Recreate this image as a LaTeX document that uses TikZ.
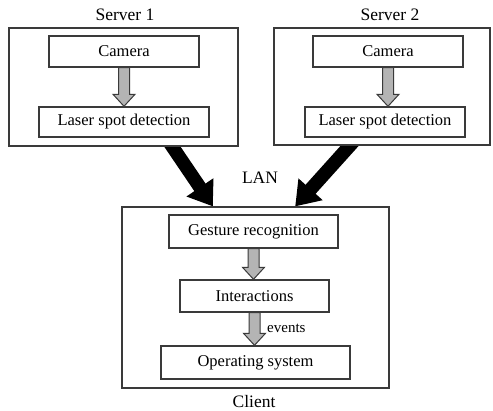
\documentclass[tikz,border=0pt]{standalone}
\usepackage{fontspec}
\setmainfont{Liberation Serif}
\usetikzlibrary{calc,arrows.meta,backgrounds}
\definecolor{edge}{HTML}{3A3A3A}
\definecolor{garfill}{HTML}{B4B4B4}
\tikzset{
  outerbox/.style={draw=edge,line width=1.2pt,fill=white,inner sep=0pt},
  innerbox/.style={draw=edge,line width=1.4pt,fill=white,inner sep=0pt,
    font=\fontsize{16.5}{19}\selectfont},
  title/.style={font=\fontsize{17.5}{20}\selectfont,inner sep=0pt},
  smalllabel/.style={font=\fontsize{15}{17}\selectfont,inner sep=0pt},
  garrow/.style={draw=edge,fill=garfill,line width=1pt,line join=miter},
  lanarrow/.style={line width=13.5pt,black,-{Triangle[length=23pt,width=31pt]}}
}
\newcommand\flowarrow[2]{%
  \filldraw[garrow] let \p1=(#1), \p2=(#2) in
    (\x1-5.5pt,\y1) -- (\x1+5.5pt,\y1) -- (\x1+5.5pt,\y2+12pt) --
    (\x1+11pt,\y2+12pt) -- (\x1,\y2) -- (\x1-11pt,\y2+12pt) --
    (\x1-5.5pt,\y2+12pt) -- cycle;}
\begin{document}
\begin{tikzpicture}[x=1pt,y=-1pt]
\useasboundingbox (0,0) rectangle (493,411);
% servers
\node[outerbox,minimum width=229,minimum height=118] (s1) at (123.5,87) {};
\node[outerbox,minimum width=216,minimum height=117] (s2) at (382,86.5) {};
\node[innerbox,minimum width=150,minimum height=31] (cam1) at (124,51.5) {Camera};
\node[innerbox,minimum width=170,minimum height=30] (las1) at (124,122) {Laser spot detection};
\node[innerbox,minimum width=150,minimum height=31] (cam2) at (388,51.5) {Camera};
\node[innerbox,minimum width=160,minimum height=30] (las2) at (385,122) {Laser spot detection};
\node[title] (t1) at (125,15) {Server 1};
\node[title] (t2) at (390,15) {Server 2};
% client
\node[outerbox,minimum width=267,minimum height=181] (cl) at (255.5,297.5) {};
\node[innerbox,minimum width=169,minimum height=33] (gest) at (253.5,231.5) {Gesture recognition};
\node[innerbox,minimum width=149,minimum height=32] (inter) at (254.5,296) {Interactions};
\node[innerbox,minimum width=189,minimum height=33] (os) at (255.5,362.5) {Operating system};
\node[title] (tc) at (254,402) {Client};
\node[title] (lan) at (260,178) {LAN};
% gray arrows
\flowarrow{cam1.south}{las1.north}
\flowarrow{cam2.south}{las2.north}
\flowarrow{gest.south}{inter.north}
\flowarrow{inter.south}{os.north}
\node[smalllabel,anchor=west] (ev) at (267,328) {events};
% LAN arrows
\coordinate (a1s) at ($(s1.south west)!0.712!(s1.south east)$);
\coordinate (a1e) at ($(cl.north west)!0.341!(cl.north east)$);
\coordinate (a2s) at ($(s2.south west)!0.352!(s2.south east)$);
\coordinate (a2e) at ($(cl.north west)!0.648!(cl.north east)$);
\begin{scope}[on background layer]
\draw[lanarrow] ($(a1s)!-0.15!(a1e)$) -- (a1e);
\draw[lanarrow] ($(a2s)!-0.15!(a2e)$) -- (a2e);
\end{scope}
\end{tikzpicture}
\end{document}
